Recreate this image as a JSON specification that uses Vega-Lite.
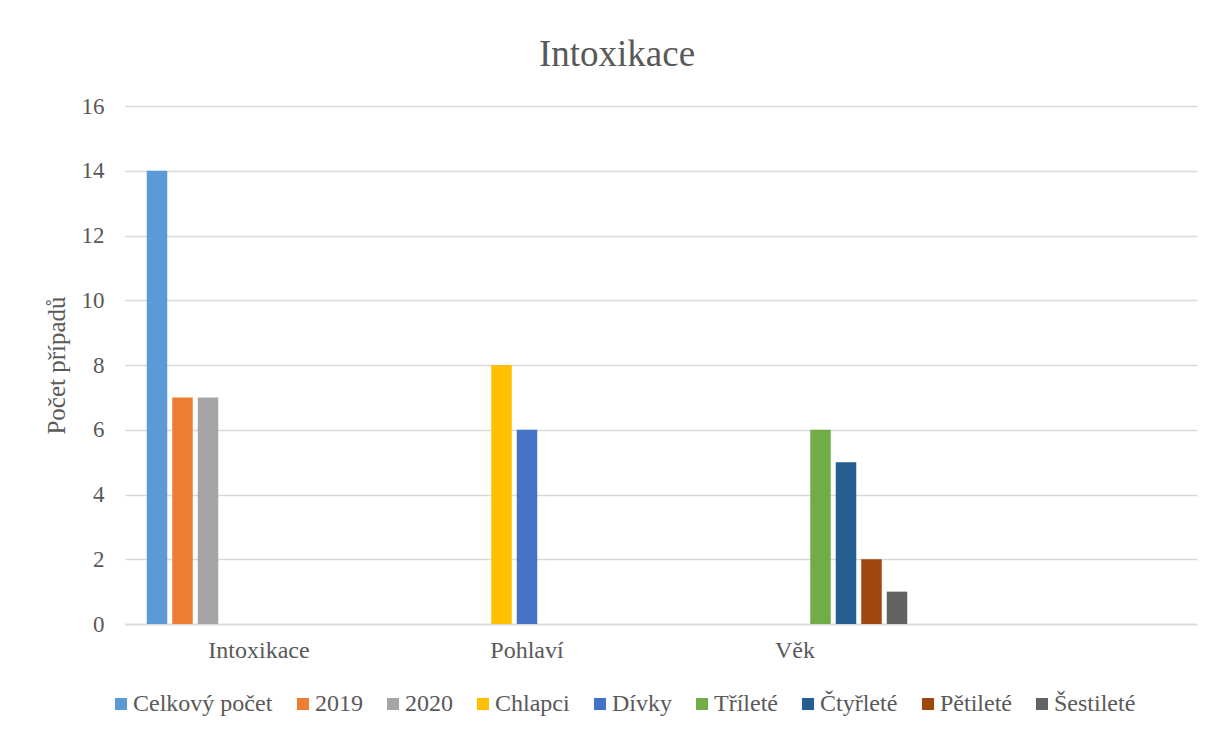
{
  "$schema": "https://vega.github.io/schema/vega-lite/v6.json",
  "autosize": {"type": "none"},
  "padding": {"left": 125, "top": 106, "right": 22, "bottom": 111},
  "width": 1072,
  "height": 518,
  "background": "white",
  "title": {
    "text": "Intoxikace",
    "font": "Liberation Serif, Times New Roman, serif",
    "fontSize": 37,
    "fontWeight": "normal",
    "color": "#595959",
    "anchor": "middle",
    "dx": -44,
    "dy": 38,
    "baseline": "alphabetic",
    "offset": 30
  },
  "data": {
    "values": [
      {"kategorie": "Intoxikace", "rada": "Celkový počet", "pocet": 14},
      {"kategorie": "Intoxikace", "rada": "2019", "pocet": 7},
      {"kategorie": "Intoxikace", "rada": "2020", "pocet": 7},
      {"kategorie": "Pohlaví", "rada": "Chlapci", "pocet": 8},
      {"kategorie": "Pohlaví", "rada": "Dívky", "pocet": 6},
      {"kategorie": "Věk", "rada": "Tříleté", "pocet": 6},
      {"kategorie": "Věk", "rada": "Čtyřleté", "pocet": 5},
      {"kategorie": "Věk", "rada": "Pětileté", "pocet": 2},
      {"kategorie": "Věk", "rada": "Šestileté", "pocet": 1}
    ]
  },
  "mark": {"type": "bar"},
  "encoding": {
    "x": {
      "field": "kategorie",
      "type": "nominal",
      "scale": {"domain": ["Intoxikace", "Pohlaví", "Věk", " "], "paddingInner": 0, "paddingOuter": 0},
      "axis": {
        "title": null,
        "labelAngle": 0,
        "labelFont": "Liberation Serif, Times New Roman, serif",
        "labelFontSize": 24,
        "labelColor": "#595959",
        "labelPadding": 14,
        "ticks": false,
        "domainColor": "#D9D9D9",
        "domainWidth": 1.5,
        "grid": false
      }
    },
    "xOffset": {
      "field": "rada",
      "type": "nominal",
      "scale": {
        "domain": ["Celkový počet", "2019", "2020", "Chlapci", "Dívky", "Tříleté", "Čtyřleté", "Pětileté", "Šestileté"],
        "paddingInner": 0.196,
        "paddingOuter": 0.853
      }
    },
    "y": {
      "field": "pocet",
      "type": "quantitative",
      "scale": {"domain": [0, 16], "nice": false},
      "axis": {
        "title": "Počet případů",
        "titleFont": "Liberation Serif, Times New Roman, serif",
        "titleFontSize": 25,
        "titleFontWeight": "normal",
        "titleColor": "#595959",
        "titlePadding": 12,
        "values": [0, 2, 4, 6, 8, 10, 12, 14, 16],
        "labelFont": "Liberation Serif, Times New Roman, serif",
        "labelFontSize": 23,
        "labelColor": "#595959",
        "labelPadding": 21,
        "ticks": false,
        "domain": false,
        "gridColor": "#D9D9D9",
        "gridWidth": 1.3
      }
    },
    "color": {
      "field": "rada",
      "type": "nominal",
      "scale": {
        "domain": ["Celkový počet", "2019", "2020", "Chlapci", "Dívky", "Tříleté", "Čtyřleté", "Pětileté", "Šestileté"],
        "range": ["#5B9BD5", "#ED7D31", "#A5A5A5", "#FFC000", "#4472C4", "#70AD47", "#255E91", "#9E480E", "#636363"]
      },
      "legend": {
        "title": null,
        "orient": "none",
        "direction": "horizontal",
        "legendX": -16,
        "legendY": 586,
        "padding": 0,
        "symbolType": "square",
        "symbolSize": 144,
        "symbolStrokeWidth": 0,
        "labelFont": "Liberation Serif, Times New Roman, serif",
        "labelFontSize": 24,
        "labelColor": "#595959",
        "labelOffset": 0,
        "columnPadding": 18,
        "labelLimit": 300
      }
    }
  },
  "config": {
    "view": {"stroke": null}
  }
}
